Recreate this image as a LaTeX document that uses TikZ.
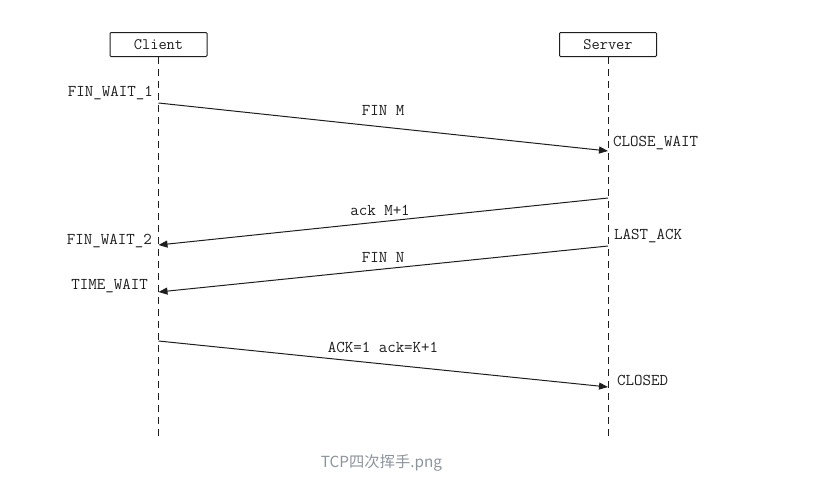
\documentclass[tikz,border=0pt]{standalone}
\usepackage{fontspec}
\setmonofont{Latin Modern Mono}
\newfontfamily\cjkfont{Noto Sans CJK SC}
\usetikzlibrary{arrows.meta}
\definecolor{ink}{RGB}{30,30,30}
\definecolor{capgray}{RGB}{140,148,158}
\tikzset{
  actor/.style={draw=ink, line width=1pt, rounded corners=1pt, minimum width=97pt, minimum height=24pt, inner sep=0pt, font=\ttfamily\fontsize{16}{16}\selectfont, text=ink},
  lifeline/.style={draw=ink, line width=1pt, dash pattern=on 7pt off 5pt},
  msg/.style={draw=ink, line width=1pt, -{Triangle[length=9pt,width=7pt]}},
  lbl/.style={font=\ttfamily\fontsize{16.5}{16.5}\selectfont, text=ink, inner sep=0pt},
}
\begin{document}
\begin{tikzpicture}[x=1pt,y=-1pt]
\useasboundingbox (0,0) rectangle (814,480);
\node[actor] (client) at (158.5,44.5) {Client};
\node[actor] (server) at (608,44.5) {Server};
\coordinate (cend) at (158.5,436);
\coordinate (send) at (608,436);
\draw[lifeline] (client.south) -- (cend);
\draw[lifeline] (server.south) -- (send);
% message endpoints
\coordinate (c1) at (158.5,103);
\coordinate (s1) at (608,151);
\coordinate (s2) at (608,198);
\coordinate (c2) at (158.5,245);
\coordinate (s3) at (608,246);
\coordinate (c3) at (158.5,292);
\coordinate (c4) at (158.5,341);
\coordinate (s4) at (608,387);
\draw[msg] (c1) -- (s1);
\draw[msg] (s2) -- (c2);
\draw[msg] (s3) -- (c3);
\draw[msg] (c4) -- (s4);
% message labels
\node[lbl] (m1) at (383,110) {FIN M};
\node[lbl] (m2) at (380,210) {ack M+1};
\node[lbl] (m3) at (383,257) {FIN N};
\node[lbl] (m4) at (383,347) {ACK=1 ack=K+1};
% states
\node[lbl, anchor=east] (fw1) at (153,93) {FIN\_WAIT\_1};
\node[lbl, anchor=west] (cw) at (613,143) {CLOSE\_WAIT};
\node[lbl, anchor=west] (la) at (614,236) {LAST\_ACK};
\node[lbl, anchor=east] (fw2) at (152,241) {FIN\_WAIT\_2};
\node[lbl, anchor=east] (tw) at (148,286) {TIME\_WAIT};
\node[lbl, anchor=west] (cl) at (617,380) {CLOSED};
% caption
\node[font=\cjkfont\fontsize{15.3}{15.3}\selectfont, text=capgray, inner sep=0pt] (cap) at (381.5,463) {TCP四次挥手.png};
\end{tikzpicture}
\end{document}
